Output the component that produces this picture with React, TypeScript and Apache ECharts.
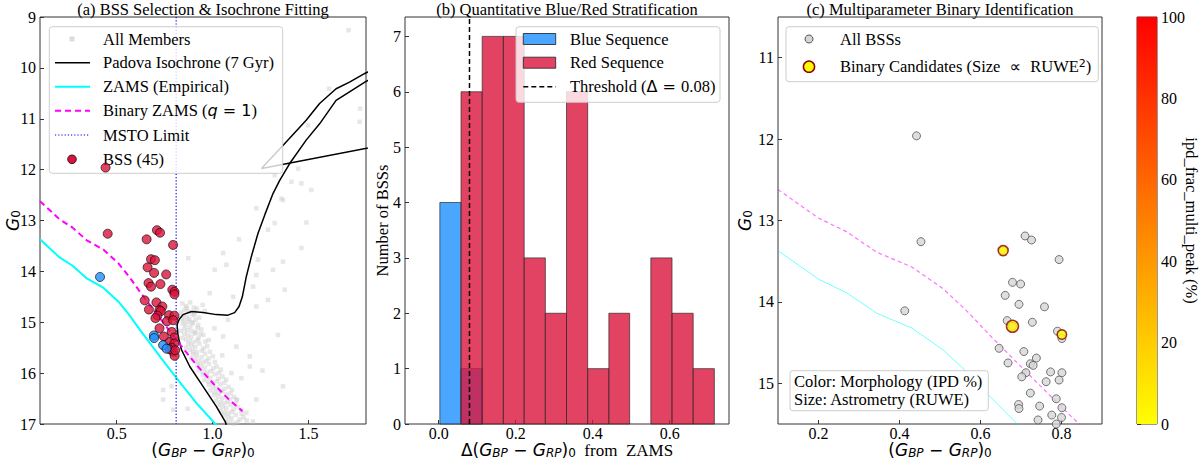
import React, { useEffect, useRef } from 'react';
import * as echarts from 'echarts';

const SERIF = 'Liberation Serif';
const MATH = 'DejaVu Sans';

// ---------- Panel (a) data ----------
const membersMS: number[][] = [
  [0.842,14.63],[0.861,14.68],[0.883,14.61],[0.902,14.71],[0.853,14.76],[0.874,14.79],[0.918,14.73],[0.835,14.81],[0.892,14.84],[0.948,14.66],
  [0.846,14.87],[0.866,14.90],[0.879,14.94],[0.905,14.86],[0.851,14.97],[0.872,14.99],[0.911,14.95],[0.931,14.91],[0.838,14.93],[0.894,15.00],
  [0.844,15.03],[0.859,15.06],[0.884,15.09],[0.897,15.02],[0.921,15.11],[0.852,15.13],[0.869,15.16],[0.893,15.18],[0.941,15.14],[0.912,15.20],[0.834,15.17],
  [0.853,15.23],[0.871,15.26],[0.889,15.29],[0.908,15.22],[0.927,15.31],[0.862,15.34],[0.881,15.37],[0.903,15.39],[0.952,15.25],[0.921,15.35],[0.843,15.31],
  [0.873,15.43],[0.891,15.46],[0.909,15.49],[0.931,15.42],[0.953,15.51],[0.882,15.54],[0.898,15.57],[0.918,15.59],[0.972,15.47],[0.944,15.56],[0.862,15.50],
  [0.898,15.63],[0.917,15.66],[0.942,15.69],[0.961,15.62],[0.979,15.71],[0.909,15.74],[0.928,15.77],[0.951,15.79],[1.002,15.67],[0.968,15.76],[0.889,15.71],
  [0.921,15.83],[0.938,15.86],[0.959,15.89],[0.982,15.82],[1.003,15.91],[0.929,15.94],[0.951,15.97],[0.972,15.99],[1.021,15.87],[0.991,15.96],[1.043,15.93],
  [0.948,16.03],[0.969,16.06],[0.988,16.09],[1.012,16.02],[1.031,16.11],[0.958,16.14],[0.979,16.17],[1.001,16.19],[1.052,16.07],[1.022,16.16],[1.071,16.13],
  [0.979,16.23],[1.001,16.26],[1.018,16.29],[1.041,16.22],[1.062,16.31],[0.989,16.34],[1.011,16.37],[1.032,16.39],[1.083,16.27],[1.049,16.36],[1.102,16.33],
  [1.008,16.43],[1.029,16.46],[1.051,16.49],[1.072,16.42],[1.091,16.51],[1.019,16.54],[1.041,16.57],[1.062,16.59],[1.112,16.47],[1.079,16.56],[1.128,16.53],
  [1.032,16.63],[1.052,16.66],[1.071,16.69],[1.093,16.62],[1.109,16.71],[1.042,16.74],[1.061,16.77],[1.082,16.79],[1.132,16.67],[1.101,16.76],[1.149,16.73],
  [1.061,16.83],[1.081,16.86],[1.099,16.89],[1.121,16.82],[1.142,16.91],[1.071,16.94],[1.089,16.97],[1.112,16.99],[1.162,16.87],[1.131,16.96],[1.178,16.93],
  [0.866,14.72],[0.906,14.80],[0.925,15.05],[0.937,15.23],[0.962,15.38],[0.986,15.58],[1.012,15.78],[1.034,16.00],[1.061,16.19],[1.093,16.40],[1.118,16.61],[1.152,16.80],
];
const membersField: number[][] = [
  [1.709,9.26],[1.607,10.41],[1.769,10.80],[1.497,11.13],[1.767,11.06],[1.324,12.11],[1.446,11.98],[1.411,12.24],[1.359,12.57],[1.463,12.27],[1.228,12.76],[1.515,12.40],[1.367,12.60],
  [1.324,13.05],[1.489,13.04],[1.289,13.18],[1.138,13.37],[1.463,13.54],[1.055,13.64],[1.237,13.77],[1.367,13.81],[0.873,13.74],[1.315,13.97],[1.228,14.07],[1.211,14.30],[1.376,14.36],
  [1.289,14.56],[1.228,14.69],[0.985,14.43],[1.107,14.50],[1.011,13.97],[1.072,13.87],[1.341,15.25],[1.124,15.48],[1.055,15.28],[1.194,15.67],[1.367,16.26],[1.228,16.52],[1.124,16.52],
  [1.176,16.78],[0.742,16.52],[0.795,16.72],[1.194,15.87],[1.098,16.00],[0.786,16.26],[0.742,16.33],[1.01,15.12],[0.98,15.35],[1.05,15.65],[1.15,16.10],[1.21,16.95],[0.87,16.70],
  [1.26,15.95],[1.08,14.95],[0.96,14.78],
];
// Padova isochrone: MS -> turn-off -> SGB -> RGB (leaves the plot at the top right)
const isoRGB: number[][] = [
  [1.10,17.5],[1.068,16.97],[1.020,16.66],[0.950,16.26],[0.881,15.87],[0.838,15.54],[0.820,15.28],[0.815,15.05],[0.826,14.94],[0.846,14.85],
  [0.890,14.79],[0.950,14.81],[1.020,14.85],[1.080,14.86],[1.115,14.81],[1.138,14.69],[1.155,14.50],[1.176,14.10],[1.202,13.71],[1.237,13.25],
  [1.273,12.88],[1.315,12.47],[1.350,12.21],[1.402,11.88],[1.488,11.42],[1.558,11.10],[1.644,10.64],[1.714,10.47],[1.794,10.28],[1.90,10.05],
];
// post-RGB part: back from the tip to the clump, then the AGB
const isoAGB: number[][] = [
  [1.90,11.51],[1.255,11.98],[1.368,11.52],[1.488,11.03],[1.558,10.70],[1.644,10.41],[1.714,10.28],[1.794,10.11],[1.90,9.90],
];
const zams: number[][] = [
  [0.1,13.37],[0.2,13.72],[0.27,13.89],[0.344,14.14],[0.43,14.32],[0.508,14.59],[0.566,14.86],[0.623,15.16],[0.689,15.49],[0.725,15.67],
  [0.812,16.10],[0.916,16.59],[1.01,16.98],[1.05,17.15],
];
const binaryZams: number[][] = [
  [0.1,12.62],[0.2,12.97],[0.27,13.14],[0.344,13.39],[0.43,13.57],[0.508,13.84],[0.566,14.11],[0.623,14.41],[0.689,14.74],[0.725,14.92],
  [0.812,15.35],[0.916,15.84],[1.01,16.23],[1.08,16.50],[1.156,16.75],
];
const mstoLimit = 0.81;
// BSS: colour, magnitude, blue-sequence flag
const bssColor: number[] = [0.442,0.453,0.413,0.710,0.726,0.794,0.656,0.679,0.699,0.661,0.695,0.758,0.666,0.679,0.728,0.790,0.801,0.801,0.646,0.707,0.738,0.668,0.723,0.730,0.712,0.773,0.801,0.702,0.762,0.794,0.723,0.787,0.694,0.695,0.746,0.801,0.742,0.776,0.800,0.760,0.787,0.795,0.802,0.775,0.805];
const bssMag: number[] = [11.96,13.26,14.11,13.19,13.24,13.48,13.37,13.76,13.78,13.92,14.03,14.06,14.23,14.30,14.25,14.36,14.40,14.45,14.57,14.61,14.69,14.75,14.76,14.78,14.87,14.86,14.87,14.92,14.98,14.96,15.12,15.19,15.26,15.31,15.28,15.30,15.45,15.39,15.42,15.52,15.50,15.58,15.66,15.53,15.55];
const bssBlue: number[] = [0,0,1,0,0,0,0,0,0,0,0,0,0,0,0,0,0,0,0,0,0,0,0,0,0,0,0,0,0,0,0,0,1,1,0,0,1,0,0,1,0,0,0,0,0];

// ---------- Panel (b) data ----------
const blueEdges: number[] = [0.003, 0.058, 0.113];
const blueCounts: number[] = [4, 1];
const redEdges: number[] = [0.058,0.113,0.168,0.222,0.277,0.332,0.387,0.442,0.496,0.551,0.606,0.661,0.716];
const redCounts: number[] = [6,7,7,3,2,6,1,2,0,3,2,1];
const threshold = 0.08;

// ---------- Panel (c) data ----------
const binColor: number[] = [0.656, 0.679, 0.801];
const binMag: number[] = [13.37, 14.30, 14.40];
const binIpd: number[] = [2, 4, 1];
const binRuwe: number[] = [1.48, 1.76, 1.40];

// ---------- Ticks ----------
const ticksAx = [0.5, 1.0, 1.5];
const ticksBx = [0.0, 0.2, 0.4, 0.6];
const ticksBy = [0, 1, 2, 3, 4, 5, 6, 7];
const ticksCx = [0.2, 0.4, 0.6, 0.8];
const ticksCy = [11, 12, 13, 14, 15];

const axRich: any = {
  n: { fontFamily: MATH, fontSize: 17, lineHeight: 18, color: '#000' },
  i: { fontFamily: MATH, fontSize: 17, fontStyle: 'italic', lineHeight: 18, color: '#000' },
  s: { fontFamily: MATH, fontSize: 12, fontStyle: 'italic', lineHeight: 10, verticalAlign: 'bottom', color: '#000' },
  z: { fontFamily: MATH, fontSize: 12, lineHeight: 10, verticalAlign: 'bottom', color: '#000' },
  t: { fontFamily: SERIF, fontSize: 17, lineHeight: 18, color: '#000' },
};
const colorName = '{n|(}{i|G}{s|BP}{n| − }{i|G}{s|RP}{n|)}{z|0}';
const magName = '{i|G}{z|0}';
const deltaName = '{n|Δ(}{i|G}{s|BP}{n| − }{i|G}{s|RP}{n|)}{z|0}{t|  from  ZAMS}';

function buildOption() {
  const fmt1 = (v: number) => v.toFixed(1);
  const label = (vals: number[] | null, margin: number, extra: any = {}) => ({
    fontFamily: SERIF, fontSize: 16, color: '#000', margin,
    ...(vals ? { customValues: vals } : {}), ...extra,
  });
  const tick = (vals: number[] | null, inside = true) => ({
    inside, length: 4, lineStyle: { color: '#333' }, ...(vals ? { customValues: vals } : {}),
  });
  const gridBase = {
    show: true, borderColor: '#333', borderWidth: 1, backgroundColor: 'rgba(0,0,0,0)',
    outerBoundsMode: 'none', containLabel: false,
  };

  const red = redCounts.map((c, i) => [redEdges[i], redEdges[i + 1], c]).filter((d) => d[2] > 0);
  const blue = blueCounts.map((c, i) => [blueEdges[i], blueEdges[i + 1], c]).filter((d) => d[2] > 0);
  const histItem = (fill: string, opacity: number) => (params: any, api: any) => {
    const p0 = api.coord([api.value(0), 0]);
    const p1 = api.coord([api.value(1), api.value(2)]);
    return {
      type: 'rect',
      shape: { x: p0[0], y: p1[1], width: p1[0] - p0[0], height: p0[1] - p1[1] },
      style: { fill, opacity, stroke: 'rgba(40,40,40,0.85)', lineWidth: 1 },
    };
  };

  const bssRed = bssColor.map((x, i) => [x, bssMag[i]]).filter((_, i) => !bssBlue[i]);
  const bssBl = bssColor.map((x, i) => [x, bssMag[i]]).filter((_, i) => bssBlue[i]);
  const bssAll = bssColor.map((x, i) => [x, bssMag[i]]);
  const binaries = binColor.map((x, i) => [x, binMag[i], binIpd[i], binRuwe[i]]);

  // ---------- legends & annotations (graphic) ----------
  const txt = (x: number, y: number, text: string, extra: any = {}) => ({
    type: 'text', z: 102,
    style: { x, y, text, font: `16.5px "${SERIF}"`, fill: '#000', textVerticalAlign: 'middle', ...extra },
  });
  const hline = (x1: number, x2: number, y: number, stroke: string, lineWidth: number, lineDash?: number[]) => ({
    type: 'line', z: 102, shape: { x1, y1: y, x2, y2: y }, style: { stroke, lineWidth, lineDash },
  });
  const box = (x: number, y: number, w: number, h: number, fill = 'rgba(255,255,255,0.8)') => ({
    type: 'rect', z: 101, shape: { x, y, width: w, height: h, r: 3 },
    style: { fill, stroke: 'rgba(200,200,200,0.9)', lineWidth: 1 },
  });
  const legRich = {
    a: { fontFamily: SERIF, fontSize: 16.5 },
    q: { fontFamily: MATH, fontSize: 16, fontStyle: 'italic' },
    m: { fontFamily: MATH, fontSize: 16 },
    sup: { fontFamily: MATH, fontSize: 11, verticalAlign: 'top', lineHeight: 10 },
  };
  const rowsA = [39, 62.7, 86.7, 110.7, 135, 159.3];
  const rowsB = [39, 62.7, 86.7];
  const rowsC = [39, 66.7];

  const graphic: any[] = [
    // titles
    txt(203, 9.5, '(a) BSS Selection & Isochrone Fitting', { textAlign: 'center' }),
    txt(567, 9.5, '(b) Quantitative Blue/Red Stratification', { textAlign: 'center' }),
    txt(940, 9.5, '(c) Multiparameter Binary Identification', { textAlign: 'center' }),
    // legend (a)
    box(49.3, 26.7, 233.4, 146.6),
    { type: 'rect', z: 102, shape: { x: 69.5, y: rowsA[0] - 2.5, width: 5, height: 5 }, style: { fill: 'rgba(205,205,205,0.7)' } },
    hline(55, 90, rowsA[1], '#000', 1.5),
    hline(55, 90, rowsA[2], '#00ffff', 2),
    hline(55, 90, rowsA[3], '#ff00ff', 2, [6, 4]),
    hline(55, 90, rowsA[4], '#0000ff', 1.2, [1.2, 2]),
    { type: 'circle', z: 102, shape: { cx: 72, cy: rowsA[5], r: 4.3 }, style: { fill: '#DC143C', stroke: '#000', lineWidth: 0.8 } },
    txt(103, rowsA[0], 'All Members'),
    txt(103, rowsA[1], 'Padova Isochrone (7 Gyr)'),
    txt(103, rowsA[2], 'ZAMS (Empirical)'),
    txt(103, rowsA[3], '{a|Binary ZAMS (}{q|q}{m| = 1}{a|)}', { rich: legRich }),
    txt(103, rowsA[4], 'MSTO Limit'),
    txt(103, rowsA[5], 'BSS (45)'),
    // legend (b)
    box(516, 26.7, 204, 75.6),
    { type: 'rect', z: 102, shape: { x: 523.3, y: rowsB[0] - 5.5, width: 32.4, height: 11 }, style: { fill: 'rgba(30,144,255,0.8)', stroke: 'rgba(40,40,40,0.85)', lineWidth: 1 } },
    { type: 'rect', z: 102, shape: { x: 523.3, y: rowsB[1] - 5.5, width: 32.4, height: 11 }, style: { fill: 'rgba(220,20,60,0.8)', stroke: 'rgba(40,40,40,0.85)', lineWidth: 1 } },
    hline(523.3, 555.7, rowsB[2], '#000', 1.5, [5, 3]),
    txt(570, rowsB[0], 'Blue Sequence'),
    txt(570, rowsB[1], 'Red Sequence'),
    txt(570, rowsB[2], '{a|Threshold (}{m|Δ = }{a|0.08)}', { rich: legRich }),
    // legend (c)
    box(786, 26.7, 312.3, 55),
    { type: 'circle', z: 102, shape: { cx: 809, cy: rowsC[0], r: 4 }, style: { fill: '#d6d6d6', stroke: '#555', lineWidth: 1 } },
    { type: 'circle', z: 102, shape: { cx: 809, cy: rowsC[1], r: 5.6 }, style: { fill: '#ffff00', stroke: '#8B0000', lineWidth: 1.5 } },
    txt(840, rowsC[0], 'All BSSs'),
    txt(840, rowsC[1], '{a|Binary Candidates (Size }{m| ∝ }{a| RUWE}{sup|2}{a|)}', { rich: legRich }),
    // annotation box (c)
    box(790, 370.7, 198.3, 40, 'rgba(255,255,255,0.85)'),
    txt(794, 381, 'Color: Morphology (IPD %)'),
    txt(794, 399, 'Size: Astrometry (RUWE)'),
  ];

  const nameX = { nameLocation: 'middle', nameGap: 17, nameMoveOverlap: false, nameTextStyle: { rich: axRich } };
  const xLabelExtra = { formatter: fmt1, lineHeight: 14 };

  return {
    animation: false,
    backgroundColor: '#fff',
    textStyle: { fontFamily: SERIF },
    grid: [
      { left: 40, top: 17, width: 326, height: 407, ...gridBase },
      { left: 405, top: 17, width: 324, height: 407, ...gridBase },
      { left: 778, top: 17, width: 324, height: 407, ...gridBase },
      { left: 1137, top: 17, width: 20, height: 407, ...gridBase },
    ],
    xAxis: [
      {
        gridIndex: 0, type: 'value', min: 0.1, max: 1.8,
        axisLabel: label(ticksAx, 2, xLabelExtra), axisTick: tick(ticksAx),
        axisLine: { show: false, onZero: false }, splitLine: { show: false },
        name: colorName, ...nameX,
      },
      {
        gridIndex: 1, type: 'value', min: -0.0875, max: 0.754,
        axisLabel: label(ticksBx, 2, xLabelExtra), axisTick: tick(ticksBx),
        axisLine: { show: false, onZero: false }, splitLine: { show: false },
        name: deltaName, ...nameX,
      },
      {
        gridIndex: 2, type: 'value', min: 0.1, max: 0.9,
        axisLabel: label(ticksCx, 2, xLabelExtra), axisTick: tick(ticksCx),
        axisLine: { show: false, onZero: false }, splitLine: { show: false },
        name: colorName, ...nameX,
      },
      { gridIndex: 3, type: 'value', min: 0, max: 1, show: false },
    ],
    yAxis: [
      {
        gridIndex: 0, type: 'value', min: 9, max: 17, interval: 1, inverse: true,
        axisLabel: label(null, 4), axisTick: tick(null),
        axisLine: { show: false, onZero: false }, splitLine: { show: false },
        name: magName, nameLocation: 'middle', nameGap: 18, nameMoveOverlap: false, nameTextStyle: { rich: axRich },
      },
      {
        gridIndex: 1, type: 'value', min: 0, max: 7.35,
        axisLabel: label(ticksBy, 4), axisTick: tick(ticksBy),
        axisLine: { show: false, onZero: false }, splitLine: { show: false },
        name: 'Number of BSSs', nameLocation: 'middle', nameGap: 14, nameMoveOverlap: false,
        nameTextStyle: { fontFamily: SERIF, fontSize: 16.5, color: '#000' },
      },
      {
        gridIndex: 2, type: 'value', min: 10.5, max: 15.5, inverse: true,
        axisLabel: label(ticksCy, 4), axisTick: tick(ticksCy),
        axisLine: { show: false, onZero: false }, splitLine: { show: false },
        name: magName, nameLocation: 'middle', nameGap: 24, nameMoveOverlap: false, nameTextStyle: { rich: axRich },
      },
      {
        gridIndex: 3, type: 'value', min: 0, max: 100, interval: 20, position: 'right',
        axisLabel: label(null, 4), axisTick: tick(null, false),
        axisLine: { show: false }, splitLine: { show: false },
        name: 'ipd_frac_multi_peak (%)', nameLocation: 'middle', nameGap: 26, nameRotate: -90, nameMoveOverlap: false,
        nameTextStyle: { fontFamily: SERIF, fontSize: 16.5, color: '#000' },
      },
    ],
    visualMap: [
      {
        type: 'continuous', show: false, min: 0, max: 100, dimension: 2, seriesIndex: 14,
        inRange: { color: ['#ffff00', '#ff0000'] },
      },
    ],
    series: [
      // ----- panel a -----
      {
        name: 'All Members', type: 'scatter', xAxisIndex: 0, yAxisIndex: 0, z: 1, silent: true,
        symbol: 'rect', symbolSize: 4.5, data: membersMS.concat(membersField),
        itemStyle: { color: 'rgba(200,200,200,0.55)' },
      },
      {
        name: 'Padova Isochrone (7 Gyr)', type: 'line', xAxisIndex: 0, yAxisIndex: 0, z: 3,
        data: isoRGB, symbol: 'none', lineStyle: { color: '#000', width: 1.5 }, clip: true,
      },
      {
        name: 'Padova Isochrone (7 Gyr) AGB', type: 'line', xAxisIndex: 0, yAxisIndex: 0, z: 3,
        data: isoAGB, symbol: 'none', lineStyle: { color: '#000', width: 1.5 }, clip: true,
      },
      {
        name: 'ZAMS (Empirical)', type: 'line', xAxisIndex: 0, yAxisIndex: 0, z: 3,
        data: zams, symbol: 'none', lineStyle: { color: '#00ffff', width: 2 }, clip: true,
      },
      {
        name: 'Binary ZAMS (q = 1)', type: 'line', xAxisIndex: 0, yAxisIndex: 0, z: 3,
        data: binaryZams, symbol: 'none', lineStyle: { color: '#ff00ff', width: 2, type: [6, 4] }, clip: true,
      },
      {
        name: 'MSTO Limit', type: 'line', xAxisIndex: 0, yAxisIndex: 0, z: 3,
        data: [[mstoLimit, 9], [mstoLimit, 17]], symbol: 'none',
        lineStyle: { color: '#0000ff', width: 1.2, type: [1.2, 2] },
      },
      {
        name: 'BSS (45)', type: 'scatter', xAxisIndex: 0, yAxisIndex: 0, z: 110,
        data: bssRed, symbolSize: 9,
        itemStyle: { color: '#DC143C', borderColor: '#000', borderWidth: 0.8 },
      },
      {
        name: 'BSS blue', type: 'scatter', xAxisIndex: 0, yAxisIndex: 0, z: 110,
        data: bssBl, symbolSize: 9,
        itemStyle: { color: '#1E90FF', borderColor: '#000', borderWidth: 0.8 },
      },
      // ----- panel b -----
      {
        name: 'Blue Sequence', type: 'custom', xAxisIndex: 1, yAxisIndex: 1, z: 2,
        data: blue, encode: { x: [0, 1], y: 2 }, renderItem: histItem('#1E90FF', 0.8),
      },
      {
        name: 'Red Sequence', type: 'custom', xAxisIndex: 1, yAxisIndex: 1, z: 3,
        data: red, encode: { x: [0, 1], y: 2 }, renderItem: histItem('#DC143C', 0.8),
      },
      {
        name: 'Threshold (Δ = 0.08)', type: 'line', xAxisIndex: 1, yAxisIndex: 1, z: 4,
        data: [[threshold, 0], [threshold, 7.35]], symbol: 'none',
        lineStyle: { color: '#000', width: 1.5, type: [5, 3] },
      },
      // ----- panel c -----
      {
        name: 'ZAMS c', type: 'line', xAxisIndex: 2, yAxisIndex: 2, z: 2,
        data: zams, symbol: 'none', lineStyle: { color: '#00ffff', width: 1, opacity: 0.55 }, clip: true,
      },
      {
        name: 'Binary ZAMS c', type: 'line', xAxisIndex: 2, yAxisIndex: 2, z: 2,
        data: binaryZams, symbol: 'none', lineStyle: { color: '#ff00ff', width: 1.2, opacity: 0.55, type: [4, 3] }, clip: true,
      },
      {
        name: 'All BSSs', type: 'scatter', xAxisIndex: 2, yAxisIndex: 2, z: 4, clip: true,
        data: bssAll, symbolSize: 8,
        itemStyle: { color: '#d6d6d6', borderColor: '#555', borderWidth: 1 },
      },
      {
        name: 'Binary Candidates', type: 'scatter', xAxisIndex: 2, yAxisIndex: 2, z: 5, clip: true,
        data: binaries, symbolSize: (v: number[]) => v[3] * 6.8,
        itemStyle: { color: '#ffff00', borderColor: '#8B0000', borderWidth: 1.5 },
      },
      // ----- colorbar -----
      {
        name: 'colorbar', type: 'custom', xAxisIndex: 3, yAxisIndex: 3, z: 2, silent: true,
        data: [[0, 1, 0, 100]], encode: { x: [0, 1], y: [2, 3] },
        renderItem: (params: any, api: any) => {
          const p0 = api.coord([api.value(0), api.value(2)]);
          const p1 = api.coord([api.value(1), api.value(3)]);
          return {
            type: 'rect',
            shape: { x: p0[0], y: p1[1], width: p1[0] - p0[0], height: p0[1] - p1[1] },
            style: {
              fill: new echarts.graphic.LinearGradient(0, 0, 0, 1, [
                { offset: 0, color: '#ff0000' },
                { offset: 1, color: '#ffff00' },
              ]),
            },
          };
        },
      },
    ],
    graphic,
  };
}

export default function App() {
  const ref = useRef<HTMLDivElement>(null);
  useEffect(() => {
    const chart = echarts.init(ref.current as HTMLDivElement, null, { renderer: 'svg' });
    chart.setOption(buildOption() as any);
    return () => chart.dispose();
  }, []);
  return <div ref={ref} style={{ position: 'absolute', left: 0, top: 0, width: 1200, height: 462 }} />;
}
